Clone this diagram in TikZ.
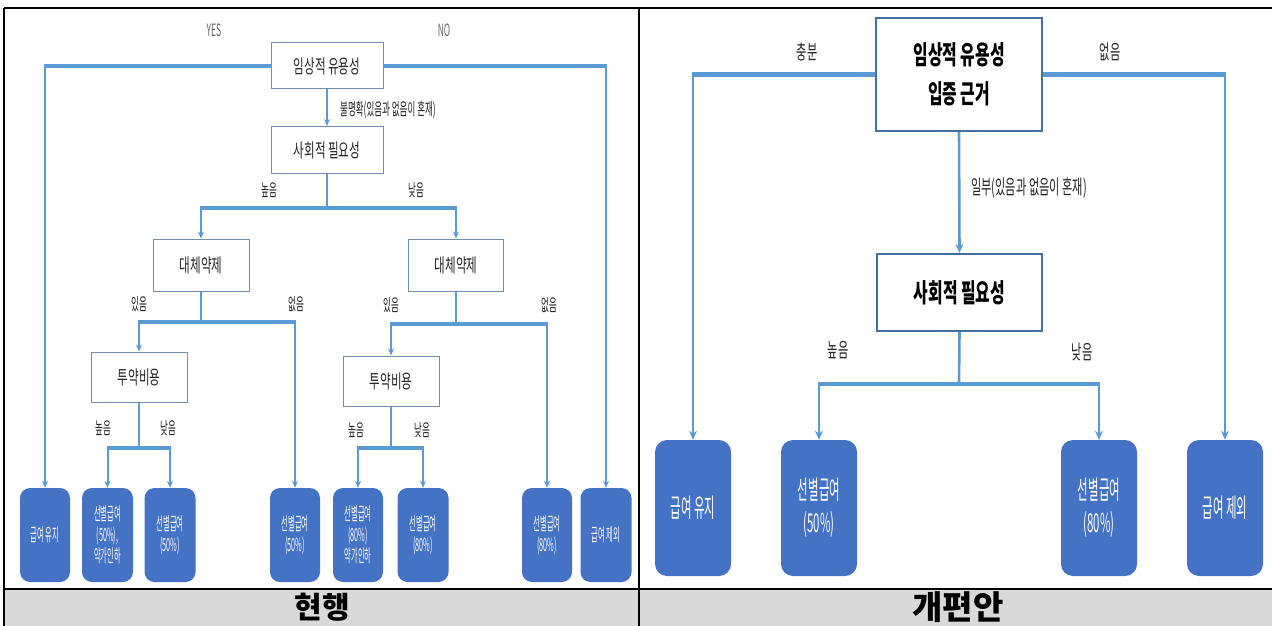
\documentclass[tikz,border=0pt]{standalone}
\usepackage{fontspec}
\usetikzlibrary{arrows.meta}
\newfontfamily\krA[FakeStretch=0.61]{Noto Sans CJK KR}
\newfontfamily\krL[FakeStretch=0.5]{Noto Sans CJK KR}
\newfontfamily\krR[FakeStretch=0.56]{Noto Sans CJK KR}
\newfontfamily\krB[FakeStretch=0.4]{Noto Sans CJK KR}
\newfontfamily\krC[FakeStretch=0.44]{Noto Sans CJK KR}
\newfontfamily\krN{Noto Sans CJK KR}
\definecolor{lineblue}{HTML}{5B9BD5}
\definecolor{leafblue}{HTML}{4472C4}
\definecolor{boxedge}{HTML}{6F8FB5}
\definecolor{boxedgeR}{HTML}{41719C}
\definecolor{bargray}{HTML}{D9D9D9}
\definecolor{txt}{HTML}{262626}
\tikzset{
  lbox/.style={draw=boxedge, line width=1pt, fill=white, inner sep=0pt, text=txt,
    font=\krA\fontsize{19}{22}\selectfont},
  rbox/.style={draw=boxedgeR, line width=2.2pt, fill=white, inner sep=0pt, text=black,
    font=\krA\bfseries\fontsize{26}{39}\selectfont, align=center},
  lleaf/.style={fill=leafblue, rounded corners=10pt, inner sep=0pt, text=white, align=center,
    minimum height=94pt, font=\krB\fontsize{18}{21}\selectfont},
  rleaf/.style={fill=leafblue, rounded corners=12pt, inner sep=0pt, text=white, align=center,
    minimum width=76pt, minimum height=136pt, font=\krC\fontsize{26}{33}\selectfont},
  llab/.style={text=txt, inner sep=0pt, font=\krL\fontsize{17}{19}\selectfont},
  rlab/.style={text=txt, inner sep=0pt, font=\krR\fontsize{20}{22}\selectfont},
  lbar/.style={draw=lineblue, line width=3.5pt},
  rbar/.style={draw=lineblue, line width=4.5pt},
  larr/.style={draw=lineblue, line width=2pt, -{Stealth[length=7pt,width=6pt]}},
  rarr/.style={draw=lineblue, line width=2.6pt, -{Stealth[length=9pt,width=8pt]}},
  lline/.style={draw=lineblue, line width=2pt},
  rline/.style={draw=lineblue, line width=2.6pt},
  frame/.style={draw=black, line width=1.2pt}
}
\begin{document}
\begin{tikzpicture}[x=1pt,y=-1pt]
\useasboundingbox (0,0) rectangle (1272,626);
\fill[white] (0,0) rectangle (1272,626);
% bottom gray bar and frame
\fill[bargray] (4,589) rectangle (1272,626);
\draw[frame] (4,8) -- (1272,8);
\draw[frame] (4,8) -- (4,626);
\draw[frame] (639,8) -- (639,626);
\draw[frame] (4,589) -- (1272,589);
\node[font=\krN\bfseries\fontsize{30}{32}\selectfont] (t1) at (322,607) {현행};
\node[font=\krN\bfseries\fontsize{33}{34}\selectfont] (t2) at (958,607) {개편안};

% ---------------- left panel ----------------
\node[lbox, minimum width=112pt, minimum height=46pt] (A) at (327,66) {임상적 유용성};
\node[lbox, minimum width=112pt, minimum height=47pt] (B) at (327,150) {사회적 필요성};
\node[lbox, minimum width=96pt, minimum height=52pt] (C1) at (201,265) {대체약제};
\node[lbox, minimum width=95pt, minimum height=52pt] (C2) at (456,265) {대체약제};
\node[lbox, minimum width=96pt, minimum height=50pt] (D1) at (139,377) {투약비용};
\node[lbox, minimum width=96pt, minimum height=50pt] (D2) at (391,381) {투약비용};

\node[lleaf, minimum width=50pt] (L1) at (45,535) {급여 유지};
\node[lleaf, minimum width=51pt] (L2) at (107.5,535) {선별급여\\(50\%),\\약가인하};
\node[lleaf, minimum width=51pt] (L3) at (170,535) {선별급여\\(50\%)};
\node[lleaf, minimum width=50pt] (L4) at (295,535) {선별급여\\(50\%)};
\node[lleaf, minimum width=50pt] (L5) at (358,535) {선별급여\\(80\%)\\약가인하};
\node[lleaf, minimum width=51pt] (L6) at (423,535) {선별급여\\(80\%)};
\node[lleaf, minimum width=50pt] (L7) at (547,535) {선별급여\\(80\%)};
\node[lleaf, minimum width=51pt] (L8) at (606,535) {급여 제외};

\coordinate (jA1) at (A.west -| L1.north);
\coordinate (jA2) at (A.east -| L8.north);
\draw[lbar] (A.west) -- ([xshift=-1pt]jA1);
\draw[lbar] (A.east) -- ([xshift=1pt]jA2);
\draw[larr] (jA1) -- (L1.north);
\draw[larr] (jA2) -- (L8.north);
\draw[larr] (A.south) -- (B.north);

\coordinate (jB) at (327,208);
\coordinate (jB1) at (jB -| C1.north);
\coordinate (jB2) at (jB -| C2.north);
\draw[lline] (B.south) -- (jB);
\draw[lbar] ([xshift=-1pt]jB1) -- ([xshift=1pt]jB2);
\draw[larr] (jB1) -- (C1.north);
\draw[larr] (jB2) -- (C2.north);

\coordinate (jC) at (201,322);
\coordinate (jC1) at (jC -| D1.north);
\coordinate (jC2) at (jC -| L4.north);
\draw[lline] (C1.south) -- (jC);
\draw[lbar] ([xshift=-1pt]jC1) -- ([xshift=1pt]jC2);
\draw[larr] (jC1) -- (D1.north);
\draw[larr] (jC2) -- (L4.north);

\coordinate (jE) at (456,324);
\coordinate (jE1) at (jE -| D2.north);
\coordinate (jE2) at (jE -| L7.north);
\draw[lline] (C2.south) -- (jE);
\draw[lbar] ([xshift=-1pt]jE1) -- ([xshift=1pt]jE2);
\draw[larr] (jE1) -- (D2.north);
\draw[larr] (jE2) -- (L7.north);

\coordinate (jD) at (139,448);
\coordinate (jD1) at (jD -| L2.north);
\coordinate (jD2) at (jD -| L3.north);
\draw[lline] (D1.south) -- (jD);
\draw[lbar] ([xshift=-1pt]jD1) -- ([xshift=1pt]jD2);
\draw[larr] (jD1) -- (L2.north);
\draw[larr] (jD2) -- (L3.north);

\coordinate (jF) at (391,448);
\coordinate (jF1) at (jF -| L5.north);
\coordinate (jF2) at (jF -| L6.north);
\draw[lline] (D2.south) -- (jF);
\draw[lbar] ([xshift=-1pt]jF1) -- ([xshift=1pt]jF2);
\draw[larr] (jF1) -- (L5.north);
\draw[larr] (jF2) -- (L6.north);

\node[llab, text=gray!80!black] (yes) at (214,30) {YES};
\node[llab, text=gray!80!black] (no) at (444,30) {NO};
\node[llab, anchor=west] (unc) at (340,110) {불명확(있음과 없음이 혼재)};
\node[llab] (h1) at (269,190) {높음};
\node[llab] (l1) at (416,190) {낮음};
\node[llab] (y1) at (139,304) {있음};
\node[llab] (n1) at (296,304) {없음};
\node[llab] (y2) at (391,305) {있음};
\node[llab] (n2) at (549,305) {없음};
\node[llab] (h2) at (103,428) {높음};
\node[llab] (l2) at (168,428) {낮음};
\node[llab] (h3) at (356,430) {높음};
\node[llab] (l3) at (422,430) {낮음};

% ---------------- right panel ----------------
\node[rbox, minimum width=166pt, minimum height=113pt] (RA) at (959,74.5) {임상적 유용성\\입증 근거};
\node[rbox, minimum width=165pt, minimum height=77pt] (RB) at (959.5,292.5) {사회적 필요성};

\node[rleaf] (R1) at (693,508) {급여 유지};
\node[rleaf] (R2) at (819,508) {선별급여\\(50\%)};
\node[rleaf] (R3) at (1099,508) {선별급여\\(80\%)};
\node[rleaf] (R4) at (1225,508) {급여 제외};

\coordinate (rj1) at (RA.west -| R1.north);
\coordinate (rj2) at (RA.east -| R4.north);
\draw[rbar] (RA.west) -- ([xshift=-1.2pt]rj1);
\draw[rbar] (RA.east) -- ([xshift=1.2pt]rj2);
\draw[rarr] (rj1) -- (R1.north);
\draw[rarr] (rj2) -- (R4.north);
\draw[rarr] (RA.south) -- (RB.north);

\coordinate (rjB) at (959,384);
\coordinate (rjB1) at (rjB -| R2.north);
\coordinate (rjB2) at (rjB -| R3.north);
\draw[rline] (RB.south) -- (rjB);
\draw[rbar] ([xshift=-1.2pt]rjB1) -- ([xshift=1.2pt]rjB2);
\draw[rarr] (rjB1) -- (R2.north);
\draw[rarr] (rjB2) -- (R3.north);

\node[rlab] (suf) at (807,52) {충분};
\node[rlab] (none) at (1110,52) {없음};
\node[rlab, anchor=west] (part) at (971,188) {일부(있음과 없음이 혼재)};
\node[rlab] (rh) at (838,350) {높음};
\node[rlab] (rl) at (1082,352) {낮음};
\end{tikzpicture}
\end{document}
